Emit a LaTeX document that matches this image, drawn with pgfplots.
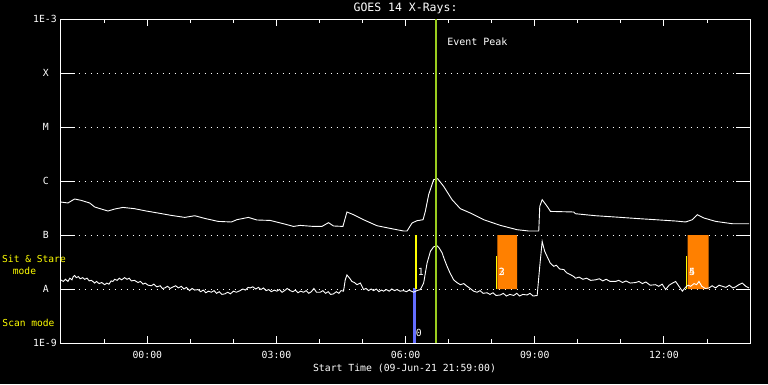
\documentclass[border=0pt]{standalone}
\usepackage{pgfplots}
\pgfplotsset{compat=1.18}
\usepackage{fontspec}
\setmainfont{DejaVu Sans Mono}
\definecolor{peakgreen}{RGB}{154,205,30}
\definecolor{scanblue}{RGB}{100,110,255}
\definecolor{stareorange}{RGB}{255,128,0}
\definecolor{labyellow}{RGB}{255,255,0}
\begin{document}
\begin{tikzpicture}
\fill[black] (0,0) rectangle (768pt,384pt);
\useasboundingbox (0,0) rectangle (768pt,384pt);
\begin{axis}[
  at={(60.5pt,41pt)}, anchor=south west,
  scale only axis, width=689.5pt, height=324pt,
  xmin=-2.0167, xmax=14.0, ymin=-9, ymax=-3,
  axis line style={white, line width=0.9pt},
  xtick={0,3,6,9,12},
  xticklabels={00:00,03:00,06:00,09:00,12:00},
  minor xtick={-1,1,2,4,5,7,8,10,11,13},
  tick align=inside,
  major tick length=7pt, minor tick length=4pt,
  xtick style={white, line width=0.9pt},
  xticklabel style={anchor=center, yshift=-12pt, white, font=\fontsize{9.8}{10}\selectfont},
  ytick={-9,-8,-7,-6,-5,-4,-3},
  yticklabels={1E-9,{A\hspace*{8pt}},{B\hspace*{8pt}},{C\hspace*{8pt}},{M\hspace*{8pt}},{X\hspace*{8pt}},1E-3},
  ytick style={draw=none},
  yticklabel style={anchor=east, inner sep=0pt, xshift=-3.5pt, white, font=\fontsize{9.8}{10}\selectfont},
  ymajorgrids,
  major grid style={white, line width=0.9pt, dash pattern=on 0.9pt off 5.1pt},
  clip=true,
]
% y ticks (left and right)
\pgfplotsinvokeforeach{-8,-7,-6,-5,-4}{
  \draw[white, line width=0.9pt] (axis cs:-2.0167,#1) -- ([xshift=14pt]axis cs:-2.0167,#1);
  \draw[white, line width=0.9pt] (axis cs:14.0,#1) -- ([xshift=-14pt]axis cs:14.0,#1);
}
% orange observation windows
\addplot[fill=stareorange, draw=none] coordinates {(8.133,-8) (8.59,-8) (8.59,-7) (8.133,-7) (8.133,-8)};
\addplot[fill=stareorange, draw=none] coordinates {(12.55,-8) (13.04,-8) (13.04,-7) (12.55,-7) (12.55,-8)};
\addplot[labyellow, line width=0.9pt] coordinates {(8.116,-8) (8.116,-7.383)};
\addplot[labyellow, line width=0.9pt] coordinates {(12.528,-8) (12.528,-7.383)};
% mode markers
\addplot[scanblue, line width=2.6pt] coordinates {(6.21,-9) (6.21,-7.98)};
\addplot[labyellow, line width=1.8pt] coordinates {(6.245,-8) (6.245,-7)};
% long channel (1-8 A)
\addplot[white, line width=0.9pt] coordinates {
(-2.014,-6.389) (-1.844,-6.407) (-1.688,-6.333) (-1.535,-6.359) (-1.340,-6.407)
(-1.223,-6.481) (-1.070,-6.519) (-0.914,-6.556) (-0.758,-6.519) (-0.565,-6.489)
(-0.293,-6.513) (-0.023,-6.556) (0.249,-6.593) (0.558,-6.637) (0.870,-6.674)
(1.102,-6.643) (1.335,-6.693) (1.644,-6.748) (1.953,-6.759) (2.079,-6.717)
(2.349,-6.674) (2.544,-6.722) (2.853,-6.730) (3.163,-6.791) (3.395,-6.841)
(3.551,-6.822) (3.860,-6.841) (4.056,-6.841) (4.209,-6.772) (4.326,-6.833)
(4.544,-6.841) (4.598,-6.685) (4.637,-6.574) (4.791,-6.624) (5.023,-6.717)
(5.335,-6.828) (5.644,-6.878) (5.953,-6.926) (6.033,-6.926) (6.149,-6.778)
(6.265,-6.735) (6.405,-6.717) (6.458,-6.563) (6.535,-6.254) (6.651,-5.976)
(6.744,-5.957) (6.884,-6.100) (7.079,-6.346) (7.272,-6.513) (7.505,-6.593)
(7.814,-6.717) (8.202,-6.822) (8.591,-6.902) (8.860,-6.926) (9.093,-6.926)
(9.116,-6.470) (9.172,-6.346) (9.288,-6.470) (9.365,-6.563) (9.907,-6.574)
(9.947,-6.606) (10.412,-6.643) (10.877,-6.667) (11.342,-6.693) (11.807,-6.717)
(12.272,-6.741) (12.505,-6.759) (12.660,-6.717) (12.777,-6.624) (12.930,-6.685)
(13.202,-6.748) (13.591,-6.791) (13.977,-6.791)
};
% short channel (0.5-4 A)
\addplot[white, line width=0.9pt] coordinates {
(-2.014,-7.83) (-1.95,-7.86) (-1.90,-7.82) (-1.844,-7.86) (-1.80,-7.80) (-1.75,-7.83)
(-1.72,-7.77) (-1.688,-7.75) (-1.65,-7.79) (-1.60,-7.77) (-1.56,-7.81) (-1.50,-7.79)
(-1.456,-7.82) (-1.40,-7.80) (-1.35,-7.85) (-1.30,-7.84) (-1.25,-7.87) (-1.223,-7.89)
(-1.18,-7.86) (-1.12,-7.90) (-1.06,-7.88) (-0.991,-7.92) (-0.94,-7.89) (-0.89,-7.91)
(-0.84,-7.85) (-0.80,-7.86) (-0.758,-7.82) (-0.70,-7.84) (-0.65,-7.80) (-0.60,-7.83)
(-0.526,-7.79) (-0.47,-7.82) (-0.42,-7.80) (-0.37,-7.85) (-0.30,-7.84) (-0.216,-7.88)
(-0.16,-7.86) (-0.10,-7.91) (-0.05,-7.89) (0.02,-7.93) (0.093,-7.94) (0.15,-7.91)
(0.22,-7.96) (0.30,-7.94) (0.35,-7.99) (0.405,-7.98) (0.47,-7.95) (0.53,-7.99)
(0.60,-7.96) (0.66,-7.94) (0.72,-7.98) (0.791,-7.95) (0.85,-8.00) (0.91,-7.97)
(0.98,-8.03) (1.04,-7.99) (1.10,-8.02) (1.179,-8.01) (1.24,-8.05) (1.30,-8.02)
(1.36,-8.07) (1.42,-8.04) (1.488,-8.06) (1.55,-8.03) (1.61,-8.08) (1.67,-8.05)
(1.73,-8.10) (1.80,-8.09) (1.87,-8.06) (1.93,-8.09) (2.00,-8.04) (2.07,-8.06)
(2.156,-8.03) (2.22,-8.00) (2.28,-8.02) (2.34,-7.97) (2.388,-7.98) (2.45,-7.96)
(2.52,-8.00) (2.58,-7.97) (2.64,-8.01) (2.698,-7.98) (2.76,-8.03) (2.82,-8.01)
(2.88,-8.05) (2.95,-8.02) (3.009,-8.04) (3.07,-8.01) (3.13,-8.06) (3.19,-8.03)
(3.25,-7.99) (3.319,-8.03) (3.38,-8.05) (3.44,-8.02) (3.50,-8.07) (3.56,-8.04)
(3.628,-8.06) (3.69,-8.03) (3.75,-8.08) (3.81,-8.05) (3.87,-7.99) (3.93,-8.06)
(4.016,-8.06) (4.08,-8.03) (4.14,-8.08) (4.20,-8.05) (4.26,-8.10) (4.326,-8.09)
(4.39,-8.05) (4.45,-8.08) (4.50,-8.03) (4.558,-8.04) (4.598,-7.83) (4.637,-7.74)
(4.70,-7.80) (4.753,-7.86) (4.81,-7.88) (4.870,-7.92) (4.947,-7.89) (5.023,-8.01)
(5.08,-7.99) (5.14,-8.03) (5.20,-8.00) (5.256,-8.03) (5.32,-8.00) (5.38,-8.05)
(5.44,-8.02) (5.488,-8.04) (5.55,-8.01) (5.62,-8.04) (5.68,-8.00) (5.74,-8.03)
(5.80,-8.01) (5.87,-8.04) (5.953,-8.03) (6.02,-8.05) (6.08,-8.02) (6.186,-8.06)
(6.26,-8.03) (6.342,-8.01) (6.419,-7.89) (6.498,-7.52) (6.577,-7.30) (6.65,-7.22)
(6.730,-7.20) (6.78,-7.24) (6.847,-7.33) (6.90,-7.45) (6.963,-7.58) (7.03,-7.70)
(7.116,-7.83) (7.19,-7.88) (7.272,-7.92) (7.35,-7.90) (7.428,-7.95) (7.50,-7.99)
(7.58,-8.04) (7.660,-8.06) (7.73,-8.03) (7.80,-8.08) (7.893,-8.07) (7.96,-8.10)
(8.03,-8.07) (8.10,-8.12) (8.202,-8.11) (8.27,-8.08) (8.34,-8.13) (8.42,-8.10)
(8.512,-8.12) (8.58,-8.08) (8.65,-8.13) (8.72,-8.10) (8.823,-8.11) (8.89,-8.08)
(8.96,-8.13) (9.056,-8.12) (9.116,-7.58) (9.172,-7.12) (9.23,-7.30) (9.288,-7.40)
(9.36,-7.52) (9.442,-7.58) (9.50,-7.56) (9.58,-7.63) (9.674,-7.64) (9.74,-7.70)
(9.82,-7.73) (9.907,-7.77) (9.947,-7.80) (10.03,-7.78) (10.12,-7.82) (10.20,-7.80)
(10.30,-7.84) (10.412,-7.83) (10.50,-7.81) (10.58,-7.85) (10.66,-7.82) (10.75,-7.86)
(10.877,-7.86) (10.95,-7.84) (11.04,-7.88) (11.12,-7.85) (11.22,-7.89) (11.342,-7.88)
(11.42,-7.86) (11.50,-7.90) (11.58,-7.87) (11.68,-7.93) (11.807,-7.92) (11.88,-7.95)
(11.96,-7.91) (12.040,-8.01) (12.12,-7.93) (12.20,-7.89) (12.272,-7.86) (12.35,-7.95)
(12.428,-8.04) (12.50,-7.97) (12.56,-7.93) (12.621,-7.95) (12.70,-7.90) (12.760,-7.92)
(12.814,-7.86) (12.88,-7.95) (12.96,-7.99) (13.047,-7.98) (13.12,-7.94) (13.20,-7.98)
(13.28,-7.93) (13.358,-7.95) (13.44,-7.97) (13.52,-7.93) (13.60,-7.98) (13.667,-7.96)
(13.74,-7.92) (13.823,-7.89) (13.90,-7.95) (13.977,-7.98)
};
% event peak line
\addplot[peakgreen, line width=1.9pt] coordinates {(6.707,-9) (6.707,-3)};
% labels inside the plot
\node[white, anchor=west, inner sep=0pt, font=\fontsize{10}{10}\selectfont] at (axis cs:6.963,-3.42) {Event Peak};
\node[white, inner sep=0pt, font=\fontsize{9.8}{10}\selectfont] at (axis cs:6.353,-7.68) {1};
\node[white, inner sep=0pt, font=\fontsize{9.8}{10}\selectfont] at (axis cs:6.307,-8.81) {0};
\node[white, inner sep=0pt, font=\fontsize{9.8}{10}\selectfont] at (axis cs:8.237,-7.68) {2};
\node[white, inner sep=0pt, font=\fontsize{9.8}{10}\selectfont] at (axis cs:8.237,-7.68) {3};
\node[white, inner sep=0pt, font=\fontsize{9.8}{10}\selectfont] at (axis cs:12.656,-7.68) {4};
\node[white, inner sep=0pt, font=\fontsize{9.8}{10}\selectfont] at (axis cs:12.656,-7.68) {5};
\end{axis}
% texts outside the axis
\node[white, inner sep=0pt, font=\fontsize{11.5}{12}\selectfont] at (405.5pt,376pt) {GOES 14 X-Rays:};
\node[white, inner sep=0pt, font=\fontsize{9.8}{10}\selectfont] at (404.5pt,16pt) {Start Time (09-Jun-21 21:59:00)};
\node[labyellow, inner sep=0pt, font=\fontsize{9.6}{10}\selectfont] at (34pt,125pt) {Sit \& Stare};
\node[labyellow, inner sep=0pt, font=\fontsize{9.6}{10}\selectfont] at (24.5pt,113pt) {mode};
\node[labyellow, inner sep=0pt, font=\fontsize{9.6}{10}\selectfont] at (28.5pt,61pt) {Scan mode};
\end{tikzpicture}
\end{document}
